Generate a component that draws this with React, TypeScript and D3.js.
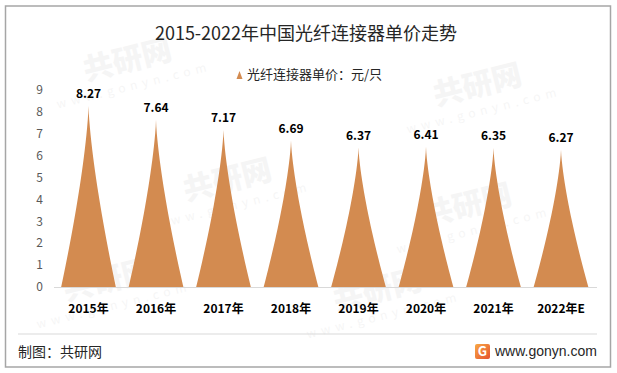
import * as d3 from "d3";

// chart data
const years = ["2015年", "2016年", "2017年", "2018年", "2019年", "2020年", "2021年", "2022年E"];
const prices = [8.27, 7.64, 7.17, 6.69, 6.37, 6.41, 6.35, 6.27];
const yTicks = [0, 1, 2, 3, 4, 5, 6, 7, 8, 9];

const W = 617;
const H = 373;
const FONT = "'Noto Sans CJK SC', 'Noto Sans', sans-serif";
const ORANGE = "#D38B50";

// faint site watermarks (kept inside the frame)
const marks = [
  { x: 130, y: 70 },
  { x: 480, y: 95 },
  { x: 230, y: 190 },
  { x: 470, y: 215 },
  { x: 110, y: 290 },
  { x: 380, y: 300 },
];

// concave "peak" shape, sides follow (1-f)^p
const spikePath = (cx: number, hw: number, y0: number, yt: number) => {
  const p = 1.4;
  const steps = d3.range(0, 1.0001, 0.04);
  const left = steps.map((f) => [cx - hw * Math.pow(1 - f, p), y0 + (yt - y0) * f] as [number, number]);
  const right = steps
    .slice()
    .reverse()
    .map((f) => [cx + hw * Math.pow(1 - f, p), y0 + (yt - y0) * f] as [number, number]);
  return d3.line()([...left, ...right]) + "Z";
};

export default function App() {
  const x = d3.scaleBand<string>().domain(years).range([54.75, 594.75]).padding(0);
  const y = d3.scaleLinear().domain([0, 9]).range([287, 90]);
  const hw = x.bandwidth() * 0.405;

  return (
    <svg
      width={W}
      height={H}
      style={{ position: "absolute", left: 0, top: 0, background: "#fff" }}
      fontFamily={FONT}
    >
      <defs>
        <linearGradient id="logoGrad" x1="0" y1="0" x2="1" y2="1">
          <stop offset="0%" stopColor="#F8A844" />
          <stop offset="100%" stopColor="#E5512F" />
        </linearGradient>
      </defs>
      <rect x={0} y={0} width={W} height={H} fill="#fff" />

      {/* watermarks */}
      {marks.map((m, i) => (
        <g key={i} transform={`translate(${m.x},${m.y}) rotate(-14)`} opacity={0.035}>
          <text fontSize={30} fontWeight={900} fill="#000" textAnchor="middle">
            共研网
          </text>
          <text y={20} fontSize={12} letterSpacing={5} fill="#000" textAnchor="middle">
            www.gonyn.com
          </text>
        </g>
      ))}

      <rect x={5.5} y={6} width={605} height={361} fill="none" stroke="#A6A6A6" strokeWidth={1.5} />

      <text x={306} y={40} textAnchor="middle" fontSize={18} fill="#262626">
        2015-2022年中国光纤连接器单价走势
      </text>

      {/* legend */}
      <path d="M236.5,79 L239.5,71 L242.5,79 Z" fill={ORANGE} />
      <text x={247} y={78.5} fontSize={13} fill="#262626">
        光纤连接器单价：元/只
      </text>

      {/* y axis labels */}
      {yTicks.map((t) => (
        <text key={t} x={43} y={y(t)} dy="0.35em" textAnchor="end" fontSize={12} fill="#595959">
          {t}
        </text>
      ))}

      {/* peaks */}
      {prices.map((v, i) => {
        const cx = (x(years[i]) ?? 0) + x.bandwidth() / 2;
        return (
          <g key={years[i]}>
            <path d={spikePath(cx, hw, y(0), y(v))} fill={ORANGE} />
            <text x={cx} y={y(v) - 8} textAnchor="middle" fontSize={12} fontWeight="bold" fill="#000">
              {v.toFixed(2)}
            </text>
            <text x={cx} y={313} textAnchor="middle" fontSize={12} fontWeight="bold" fill="#000">
              {years[i]}
            </text>
          </g>
        );
      })}

      <line x1={54} x2={597} y1={287.5} y2={287.5} stroke="#D9D9D9" strokeWidth={1} />

      {/* footer */}
      <line x1={18} x2={597} y1={334} y2={334} stroke="#D9D9D9" strokeWidth={1} />
      <text x={18} y={357} fontSize={14} fill="#262626">
        制图：共研网
      </text>
      <rect x={475} y={344} width={15} height={15} rx={2} fill="url(#logoGrad)" />
      <text x={482.5} y={356} textAnchor="middle" fontSize={13} fontWeight="bold" fill="#fff">
        G
      </text>
      <text x={495} y={356} fontSize={14} fill="#262626" fontFamily="'Liberation Sans', Arial, sans-serif">
        www.gonyn.com
      </text>
    </svg>
  );
}
